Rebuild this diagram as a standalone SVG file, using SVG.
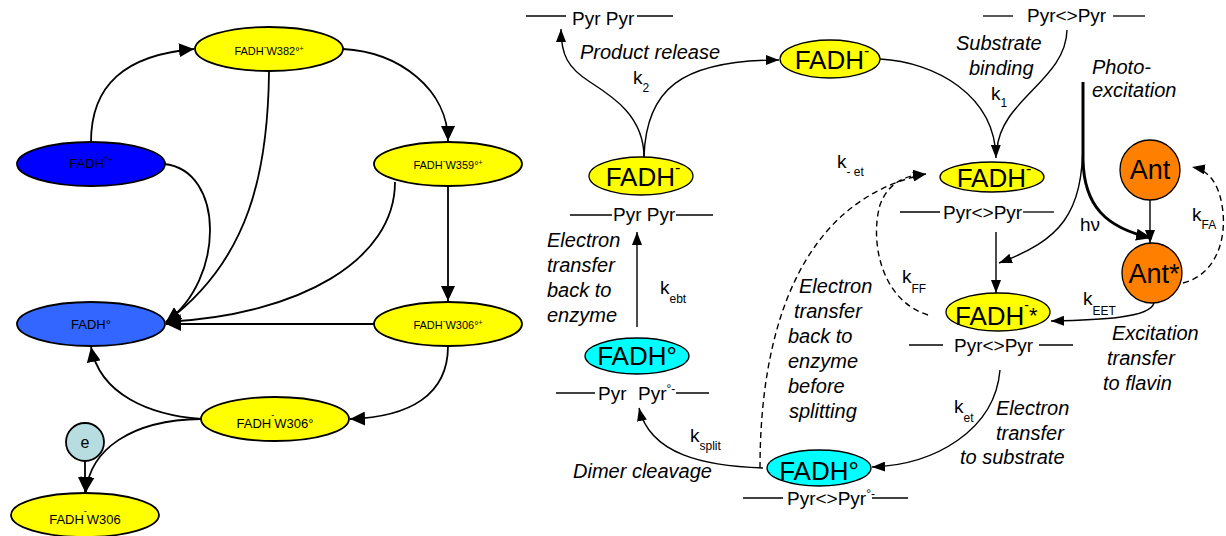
<svg xmlns="http://www.w3.org/2000/svg" width="1226" height="536" viewBox="0 0 1226 536">
<defs>
<style>
text{font-family:"Liberation Sans",Arial,sans-serif;fill:#000}
.lw{stroke:#000;stroke-width:1.8;fill:none}
.rw{stroke:#000;stroke-width:1.4;fill:none}
.dash{stroke-dasharray:6,4}
.nl{stroke:#000;stroke-width:1.8}
.nr{stroke:#000;stroke-width:1.3}
.y{fill:#FFFF00}
.c{fill:#00FFFF}
.o{fill:#FF8000}
.s10{font-size:11px}
.s12{font-size:13px}
.big{font-size:26px}
.pyr{font-size:19px}
.it{font-size:20px;font-style:italic}
.k{font-size:19px}
.sub{font-size:12px}
.bar{stroke:#000;stroke-width:1.3}
</style>
<marker id="aL" markerUnits="userSpaceOnUse" markerWidth="15" markerHeight="14" refX="15" refY="7" orient="auto"><path d="M0,0 L15,7 L0,14 z" fill="#000"/></marker>
<marker id="aR" markerUnits="userSpaceOnUse" markerWidth="13" markerHeight="10" refX="13" refY="5" orient="auto"><path d="M0,0 L13,5 L0,10 z" fill="#000"/></marker>
<marker id="aT" markerUnits="userSpaceOnUse" markerWidth="16" markerHeight="12" refX="16" refY="6" orient="auto"><path d="M0,0 L16,6 L0,12 z" fill="#000"/></marker>
</defs>
<rect width="1226" height="536" fill="#fff"/>

<g id="connectors">
<path class="lw" d="M91,142 C91,85 125,55 194,49" marker-end="url(#aL)"/>
<path class="lw" d="M343,49 C400,52 448,90 448,141" marker-end="url(#aL)"/>
<path class="lw" d="M269,72 C268,170 250,260 166,322" marker-end="url(#aL)"/>
<path class="lw" d="M164,164 C225,170 225,280 166,322" marker-end="url(#aL)"/>
<path class="lw" d="M395,182 C395,260 300,315 166,322" marker-end="url(#aL)"/>
<path class="lw" d="M448,186 L448,301" marker-end="url(#aL)"/>
<path class="lw" d="M374,324 L166,324" marker-end="url(#aL)"/>
<path class="lw" d="M201,419 C150,415 100,395 91,347" marker-end="url(#aL)"/>
<path class="lw" d="M448,346 C448,395 410,417 350,419" marker-end="url(#aL)"/>
<path class="lw" d="M201,419 C130,420 90,450 86,492" marker-end="url(#aL)"/>
<path class="lw" d="M85,461 L85,492" marker-end="url(#aL)"/>

<path class="rw" d="M644,157 C644,115 610,95 590,82 C568,68 561,55 561,29" marker-end="url(#aR)"/>
<path class="rw" d="M644,157 C646,90 680,60 779,60" marker-end="url(#aR)"/>
<path class="rw" d="M637,327 L637,232" marker-end="url(#aR)"/>
<path class="rw" d="M763,468 C705,466 650,455 639,408" marker-end="url(#aR)"/>
<path class="rw dash" d="M760,468 C760,330 800,200 926,174" marker-end="url(#aR)"/>
<path class="rw dash" d="M928,315 C880,300 870,240 880,205 C888,183 905,175 926,174" marker-end="url(#aR)"/>
<path class="rw" d="M880,59 C935,62 995,95 996,158" marker-end="url(#aR)"/>
<path class="rw" d="M1067,30 C1066,80 1000,100 997,150"/>
<path class="rw" d="M996,232 L996,293" marker-end="url(#aR)"/>
<path class="rw" d="M1083,140 C1083,215 1060,240 999,263" marker-end="url(#aR)"/>
<path stroke="#000" stroke-width="3" fill="none" d="M1083,82 L1083,160 C1084,205 1105,228 1152,238" marker-end="url(#aT)"/>
<path class="rw" d="M1150,200 L1150,243" marker-end="url(#aR)"/>
<path class="rw" d="M1154,303 C1150,318 1100,320 1051,321" marker-end="url(#aR)"/>
<path class="rw dash" d="M1183,283 C1215,275 1228,240 1222,205 C1218,182 1208,170 1192,167" marker-end="url(#aR)"/>
<path class="rw" d="M1000,370 C995,430 935,465 872,467" marker-end="url(#aR)"/>
</g>

<g id="n-fadh-rad-cation">
<ellipse class="nl" cx="91" cy="164" rx="74" ry="22" fill="#0000FF"/>
<text x="91" y="168" class="s12" text-anchor="middle">FADH<tspan font-size="9" dy="-5">°+</tspan></text>
</g>
<g id="n-w382">
<ellipse class="nl y" cx="269" cy="49" rx="74" ry="22"/>
<text x="269" y="55" class="s10" text-anchor="middle">FADH<tspan font-size="8" dy="-6">-</tspan><tspan dy="6">W382°</tspan><tspan font-size="7" dy="-4">+</tspan></text>
</g>
<g id="n-w359">
<ellipse class="nl y" cx="448" cy="164" rx="74" ry="22"/>
<text x="448" y="169" class="s10" text-anchor="middle">FADH<tspan font-size="8" dy="-6">-</tspan><tspan dy="6">W359°</tspan><tspan font-size="7" dy="-4">+</tspan></text>
</g>
<g id="n-fadh-rad">
<ellipse class="nl" cx="91" cy="324" rx="74" ry="22" fill="#3366FF"/>
<text x="91" y="329" class="s12" text-anchor="middle">FADH°</text>
</g>
<g id="n-w306-cation">
<ellipse class="nl y" cx="448" cy="324" rx="74" ry="22"/>
<text x="448" y="329" class="s10" text-anchor="middle">FADH<tspan font-size="8" dy="-6">-</tspan><tspan dy="6">W306°</tspan><tspan font-size="7" dy="-4">+</tspan></text>
</g>
<g id="n-w306-rad">
<ellipse class="nl y" cx="275" cy="419" rx="74" ry="22"/>
<text x="275" y="428" class="s12" text-anchor="middle">FADH<tspan font-size="9" dy="-10">-</tspan><tspan dy="10">W306°</tspan></text>
</g>
<g id="n-e">
<circle class="nl" cx="85" cy="442" r="19" fill="#B7DDE0"/>
<text x="85" y="448" font-size="16" text-anchor="middle">e</text>
</g>
<g id="n-w306">
<ellipse class="nl y" cx="85" cy="515" rx="74" ry="22"/>
<text x="85" y="524" class="s12" text-anchor="middle">FADH<tspan font-size="9" dy="-10">-</tspan><tspan dy="10">W306</tspan></text>
</g>

<g id="r-pyrpyr-top">
<line class="bar" x1="526" y1="16" x2="566" y2="16"/>
<text x="572" y="25" class="pyr">Pyr Pyr</text>
<line class="bar" x1="637" y1="16" x2="673" y2="16"/>
</g>
<g id="r-fadh-top">
<ellipse class="nr y" cx="830" cy="59" rx="50" ry="19"/>
<text x="832" y="69" class="big" text-anchor="middle">FADH<tspan font-size="16" dy="-13">-</tspan></text>
</g>
<g id="r-pyr-binding-top">
<line class="bar" x1="983" y1="16" x2="1013" y2="16"/>
<text x="1027" y="22" class="pyr">Pyr&lt;&gt;Pyr</text>
<line class="bar" x1="1113" y1="16" x2="1145" y2="16"/>
</g>
<g id="r-fadh-product">
<ellipse class="nr y" cx="641" cy="176" rx="52" ry="19"/>
<text x="643" y="186" class="big" text-anchor="middle">FADH<tspan font-size="16" dy="-13">-</tspan></text>
<line class="bar" x1="570" y1="215" x2="612" y2="215"/>
<text x="613" y="221" class="pyr">Pyr Pyr</text>
<line class="bar" x1="676" y1="215" x2="713" y2="215"/>
</g>
<g id="r-fadh-bound">
<ellipse class="nr y" cx="992" cy="177" rx="52" ry="15"/>
<text x="994" y="187" class="big" text-anchor="middle">FADH<tspan font-size="16" dy="-13">-</tspan></text>
<line class="bar" x1="900" y1="212" x2="940" y2="212"/>
<text x="943" y="219" class="pyr">Pyr&lt;&gt;Pyr</text>
<line class="bar" x1="1023" y1="212" x2="1054" y2="212"/>
</g>
<g id="r-fadh-excited">
<ellipse class="nr y" cx="998" cy="312" rx="52" ry="19"/>
<text x="955" y="325" class="big">FADH<tspan font-size="14" dy="-15">-</tspan><tspan font-size="22" dy="13">*</tspan></text>
<line class="bar" x1="909" y1="345" x2="943" y2="345"/>
<text x="954" y="352" class="pyr">Pyr&lt;&gt;Pyr</text>
<line class="bar" x1="1039" y1="345" x2="1073" y2="345"/>
</g>
<g id="r-fadh-rad-split">
<ellipse class="nr c" cx="637" cy="356" rx="52" ry="18"/>
<text x="637" y="365" class="big" text-anchor="middle">FADH°</text>
<line class="bar" x1="556" y1="393" x2="595" y2="393"/>
<text x="598" y="400" class="pyr">Pyr<tspan x="638">Pyr</tspan><tspan font-size="12" dy="-7">°-</tspan></text>
<line class="bar" x1="676" y1="393" x2="709" y2="393"/>
</g>
<g id="r-fadh-rad-dimer">
<ellipse class="nr c" cx="819" cy="468" rx="52" ry="18"/>
<text x="819" y="480" class="big" text-anchor="middle">FADH°</text>
<line class="bar" x1="743" y1="498" x2="783" y2="498"/>
<text x="787" y="505" class="pyr">Pyr&lt;&gt;Pyr<tspan font-size="12" dy="-7">°-</tspan></text>
<line class="bar" x1="872" y1="498" x2="908" y2="498"/>
</g>
<g id="r-ant">
<circle class="nr o" cx="1150" cy="170" r="30"/>
<text x="1150" y="179" font-size="27" text-anchor="middle">Ant</text>
</g>
<g id="r-ant-excited">
<circle class="nr o" cx="1152" cy="273" r="30"/>
<text x="1154" y="283" font-size="27" text-anchor="middle">Ant*</text>
</g>

<g id="labels">
<text x="580" y="59" class="it">Product release</text>
<text x="633" y="84" class="k">k<tspan class="sub" dy="8">2</tspan></text>
<text x="956" y="50" class="it">Substrate</text>
<text x="969" y="75" class="it">binding</text>
<text x="991" y="100" class="k">k<tspan class="sub" dy="7">1</tspan></text>
<text x="1092" y="74" class="it">Photo-</text>
<text x="1092" y="97" class="it">excitation</text>
<text x="837" y="168" class="k">k<tspan class="sub" dy="8">- et</tspan></text>
<text x="1080" y="231" font-size="19">hν</text>
<text x="1192" y="221" class="k">k<tspan class="sub" dy="8">FA</tspan></text>
<text x="547" y="247" class="it">Electron</text>
<text x="547" y="272" class="it">transfer</text>
<text x="547" y="297" class="it">back to</text>
<text x="547" y="322" class="it">enzyme</text>
<text x="660" y="294" class="k">k<tspan class="sub" dy="9">ebt</tspan></text>
<text x="799" y="293" class="it">Electron</text>
<text x="794" y="318" class="it">transfer</text>
<text x="788" y="343" class="it">back to</text>
<text x="788" y="368" class="it">enzyme</text>
<text x="788" y="393" class="it">before</text>
<text x="789" y="418" class="it">splitting</text>
<text x="902" y="283" class="k">k<tspan class="sub" dy="10">FF</tspan></text>
<text x="1083" y="305" class="k">k<tspan class="sub" dy="10">EET</tspan></text>
<text x="1112" y="340" class="it">Excitation</text>
<text x="1107" y="365" class="it">transfer</text>
<text x="1103" y="390" class="it">to flavin</text>
<text x="954" y="413" class="k">k<tspan class="sub" dy="9">et</tspan></text>
<text x="996" y="415" class="it">Electron</text>
<text x="996" y="440" class="it">transfer</text>
<text x="960" y="464" class="it">to substrate</text>
<text x="690" y="442" class="k">k<tspan class="sub" dy="8">split</tspan></text>
<text x="573" y="478" class="it">Dimer cleavage</text>
</g>
</svg>
